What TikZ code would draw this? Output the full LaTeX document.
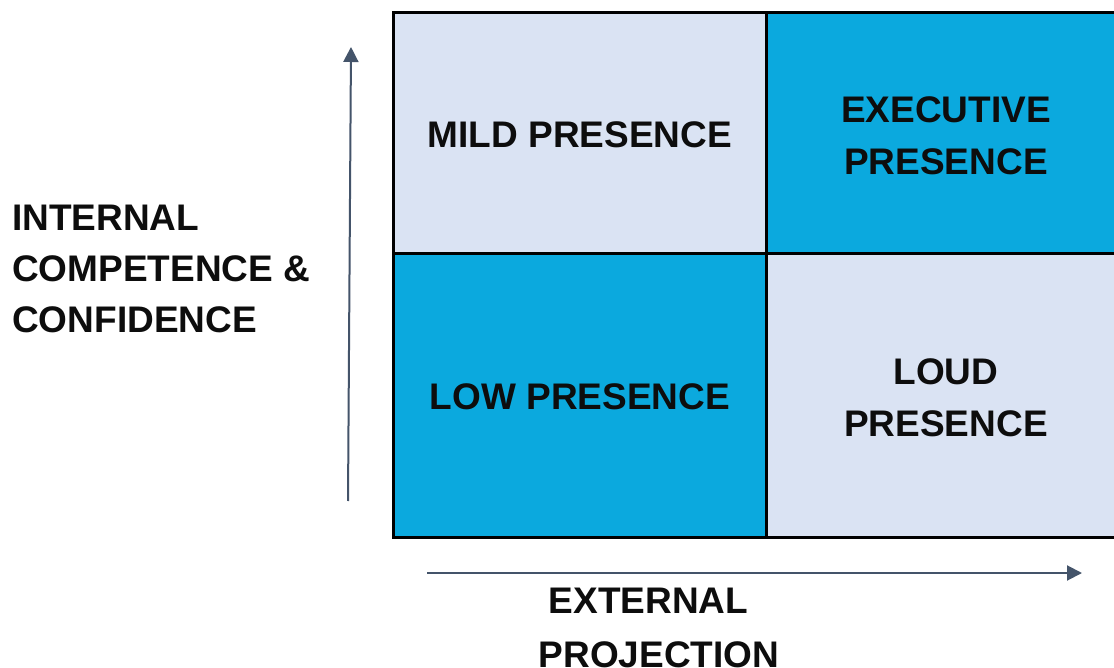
\documentclass[tikz,border=0pt]{standalone}
\usepackage{fontspec}
\setmainfont{Liberation Sans}
\usetikzlibrary{arrows.meta}
\definecolor{lightcell}{HTML}{DAE3F3}
\definecolor{bluecell}{HTML}{0BA9DE}
\definecolor{arrowcol}{HTML}{44546A}
\definecolor{txt}{HTML}{0D0D0D}
\tikzset{
  cell/.style={draw=black, line width=3pt},
  lab/.style={inner sep=0pt, text=txt, font=\fontsize{37}{52}\selectfont\bfseries, align=center},
  axis/.style={draw=arrowcol, line width=2pt, -{Triangle[length=15pt,width=15pt]}}
}
\begin{document}
\begin{tikzpicture}[x=1pt,y=-1pt]
\useasboundingbox (0,0) rectangle (1114,668);
\clip (0,0) rectangle (1114,668);
\fill[white] (0,0) rectangle (1114,668);
% cells
\filldraw[cell, fill=lightcell] (393,13) rectangle (766,254);
\filldraw[cell, fill=bluecell] (766,13) rectangle (1139,254);
\filldraw[cell, fill=bluecell] (393,254) rectangle (766,537);
\filldraw[cell, fill=lightcell] (766,254) rectangle (1139,537);
% labels
\node[lab] (mild) at (580,135) {MILD PRESENCE};
\node[lab] (exec) at (946,135.5) {EXECUTIVE\\PRESENCE};
\node[lab] (low) at (580,397) {LOW PRESENCE};
\node[lab] (loud) at (946,398) {LOUD\\PRESENCE};
\node[lab, font=\fontsize{37}{51}\selectfont\bfseries, align=left, anchor=west] (internal) at (12,269) {INTERNAL\\COMPETENCE \&\\CONFIDENCE};
\node[lab] (ext1) at (648.5,601) {EXTERNAL};
\node[lab] (ext2) at (659,655) {PROJECTION};
% axes
\coordinate (vstart) at (348,501);
\coordinate (vend) at (351,47);
\coordinate (hstart) at (427,573);
\coordinate (hend) at (1082,573);
\draw[axis] (vstart) -- (vend);
\draw[axis] (hstart) -- (hend);
\end{tikzpicture}
\end{document}
